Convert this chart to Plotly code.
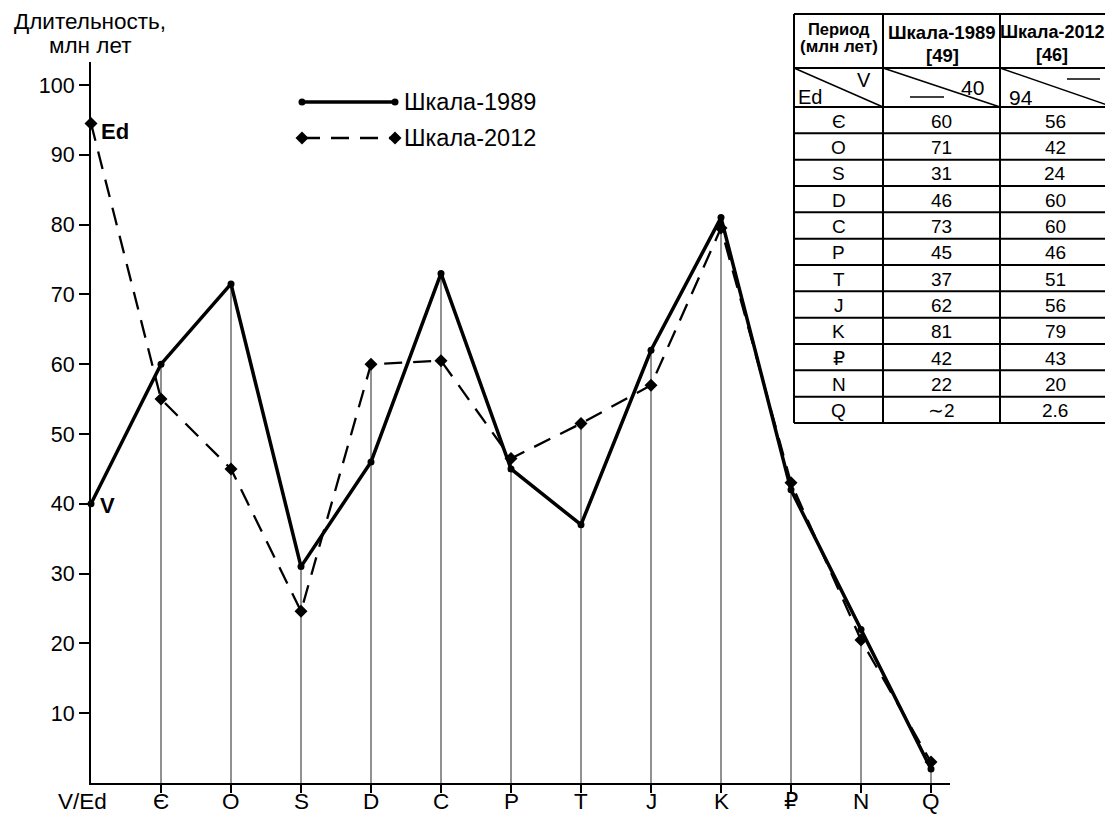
import plotly.graph_objects as go

# ---- data ----
categories = ["V/Ed", "Є", "O", "S", "D", "C", "P", "T", "J", "K", "₽", "N", "Q"]
scale_1989 = [40, 60, 71.5, 31, 46, 73, 45, 37, 62, 81, 42, 22, 2]
scale_2012 = [94.5, 55, 45, 24.6, 60, 60.5, 46.5, 51.5, 57, 79.5, 43, 20.5, 3]
y_ticks = [10, 20, 30, 40, 50, 60, 70, 80, 90, 100]

table_periods = ["Є", "O", "S", "D", "C", "P", "T", "J", "K", "₽", "N", "Q"]
table_1989 = ["60", "71", "31", "46", "73", "45", "37", "62", "81", "42", "22", "∼2"]
table_2012 = ["56", "42", "24", "60", "60", "46", "51", "56", "79", "43", "20", "2.6"]

FONT = "Liberation Sans, Arial, DejaVu Sans, sans-serif"
PAGE_W, PAGE_H = 1113, 818
OFF = 8                      # default page margin of the html body
W, H = PAGE_W - OFF, PAGE_H - OFF

def px_x(p):
    return (p - OFF) / W

def px_y(p):
    return 1 - (p - OFF) / H

xs = list(range(len(categories)))

fig = go.Figure()

# drop lines from the upper point of each category to the axis
dx, dy = [], []
for i in xs[1:]:
    top = max(scale_1989[i], scale_2012[i])
    dx += [i, i, None]
    dy += [0, top, None]
fig.add_trace(go.Scatter(x=dx, y=dy, mode="lines", line=dict(color="#222", width=1),
                         hoverinfo="skip", showlegend=False))

fig.add_trace(go.Scatter(x=xs, y=scale_2012, mode="lines+markers", name="Шкала-2012",
                         line=dict(color="black", width=2.3, dash="18px,11px"),
                         marker=dict(symbol="diamond", size=10, color="black"),
                         cliponaxis=False, showlegend=False))
fig.add_trace(go.Scatter(x=xs, y=scale_1989, mode="lines+markers", name="Шкала-1989",
                         line=dict(color="black", width=3.5),
                         marker=dict(symbol="circle", size=7, color="black"),
                         cliponaxis=False, showlegend=False))

# ---- pixel overlay axes (page pixels) for legend and table ----
fig.add_trace(go.Scatter(x=[302, 395], y=[102, 102], mode="lines+markers", xaxis="x2", yaxis="y2",
                         line=dict(color="black", width=3.5), marker=dict(size=7, color="black"),
                         hoverinfo="skip", showlegend=False, cliponaxis=False))
fig.add_trace(go.Scatter(x=[302, 395], y=[138, 138], mode="lines+markers", xaxis="x2", yaxis="y2",
                         line=dict(color="black", width=2.3, dash="18px,11px"),
                         marker=dict(symbol="diamond", size=10, color="black"),
                         hoverinfo="skip", showlegend=False, cliponaxis=False))

annotations = []
shapes = []

def txt(x, y, s, size=17, bold=False, xanchor="center", xref="x2"):
    annotations.append(dict(x=x, y=y, xref=xref, yref="y2", text=("<b>%s</b>" % s) if bold else s,
                            showarrow=False, xanchor=xanchor, yanchor="middle",
                            font=dict(family=FONT, size=size, color="black")))

def line(x0, y0, x1, y1, w=2):
    shapes.append(dict(type="line", xref="x2", yref="y2", x0=x0, y0=y0, x1=x1, y1=y1,
                       line=dict(color="black", width=w)))

txt(402, 102, "Шкала-1989", size=23.5, xanchor="left")
txt(402, 138, "Шкала-2012", size=23.5, xanchor="left")

# axis title & labels
txt(90, 21, "Длительность,", size=22.5)
txt(90, 45, "млн лет", size=22.5)
txt(82, 801, "V/Ed", size=22.5)
for i in xs[1:]:
    txt(i, 801, categories[i], size=22.5, xref="x")
txt(99, 131, "Ed", size=22, bold=True, xanchor="left")
txt(98, 505, "V", size=22, bold=True, xanchor="left")

# table
cx = [794, 883, 1000, 1125]
top, hdr, diag = 14, 68, 107
row_h = (423 - diag) / len(table_periods)
rows_y = [diag + row_h * k for k in range(len(table_periods) + 1)]
for x in cx:
    line(x, top, x, rows_y[-1])
for y in [top, hdr] + rows_y:
    line(cx[0], y, cx[-1], y)
line(cx[0], hdr, cx[1], diag, w=1.5)
line(cx[1], hdr, cx[2], diag, w=1.5)
line(cx[2], hdr, 1113, diag, w=1.5)

txt(838.5, 29, "Период", size=16.5, bold=True)
txt(838.5, 46, "(млн лет)", size=17, bold=True)
txt(942, 32, "Шкала-1989", size=18.5, bold=True)
txt(942, 55, "[49]", size=18.5, bold=True)
txt(1052, 32, "Шкала-2012", size=18, bold=True)
txt(1052, 55, "[46]", size=18, bold=True)

txt(864, 80, "V", size=20)
txt(810, 97, "Ed", size=20)
txt(972, 87, "40", size=21)
line(910, 97, 944, 97, w=1.5)
line(1067, 79, 1100, 79, w=1.5)
txt(1021, 97, "94", size=21)

for k, (p, a, b) in enumerate(zip(table_periods, table_1989, table_2012)):
    yc = (rows_y[k] + rows_y[k + 1]) / 2 + 1
    txt(838.5, yc, p, size=19)
    txt(941.5, yc, a, size=19)
    txt(1055, yc, b, size=19)

fig.update_layout(
    width=W, height=H,
    margin=dict(l=0, r=0, t=0, b=0, pad=0, autoexpand=False),
    paper_bgcolor="white", plot_bgcolor="rgba(0,0,0,0)",
    showlegend=False,
    font=dict(family=FONT, size=21, color="black"),
    xaxis=dict(domain=[px_x(91), px_x(950)], range=[0, 859 / 70], showgrid=False, zeroline=False,
               showline=True, linecolor="black", linewidth=2, automargin=False,
               tickvals=xs[1:], showticklabels=False, ticks="outside", ticklen=8,
               tickwidth=1.5, tickcolor="black", anchor="y"),
    yaxis=dict(domain=[px_y(783), px_y(62)], range=[0, 721 / 6.98], showgrid=False,
               zeroline=False, showline=True, linecolor="black", linewidth=2, automargin=False,
               tickvals=y_ticks, ticks="outside", ticklen=10, tickwidth=2, tickcolor="black",
               tickfont=dict(size=21.5), anchor="x"),
    xaxis2=dict(domain=[0, 1], range=[OFF, PAGE_W], visible=False, anchor="y2",
                fixedrange=True, automargin=False),
    yaxis2=dict(domain=[0, 1], range=[PAGE_H, OFF], visible=False, anchor="x2",
                fixedrange=True, automargin=False),
    annotations=annotations,
    shapes=shapes,
)

fig.write_html("out.html")
